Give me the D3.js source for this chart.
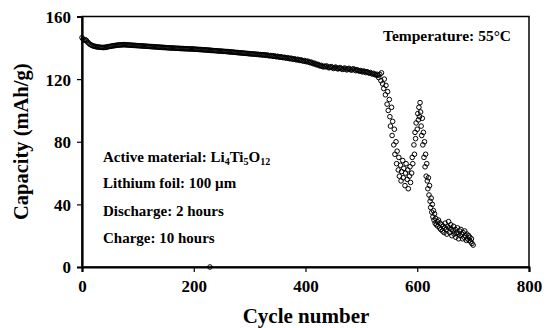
<!DOCTYPE html>
<html>
<head>
<meta charset="utf-8">
<script src="https://cdn.jsdelivr.net/npm/d3@7"></script>
<style>
  body { margin: 0; background: #fff; }
  svg text { font-family: "Liberation Serif", "Tinos", "Times New Roman", "DejaVu Serif", serif; font-weight: bold; }
</style>
</head>
<body>
<div id="chart"></div>
<script>
"use strict";

// cycle number and capacity (mAh/g)
let cycles = [
 0,2,4,6,8,10,12,14,16,18,20,22,24,26,28,30,32,34,36,38,40,42,44,46,48,50,52,54,56,58,
 60,62,64,66,68,70,72,74,76,78,80,82,84,86,88,90,92,94,96,98,100,102,104,106,108,110,112,114,116,118,
 120,122,124,126,128,130,132,134,136,138,140,142,144,146,148,150,152,154,156,158,
 160,162,164,166,168,170,172,174,176,178,180,182,184,186,188,190,192,194,196,198,
 200,202,204,206,208,210,212,214,216,218,220,222,224,226,228,230,232,234,236,238,
 240,242,244,246,248,250,252,254,256,258,260,262,264,266,268,270,272,274,276,278,
 280,282,284,286,288,290,292,294,296,298,300,302,304,306,308,310,312,314,316,318,
 320,322,324,326,328,330,332,334,336,338,340,342,344,346,348,350,352,354,356,358,
 360,362,364,366,368,370,372,374,376,378,380,382,384,386,388,390,392,394,396,398,
 400,402,404,406,408,410,412,414,416,418,420,422,424,426,428,430,432,434,436,438,
 440,442,444,446,448,450,452,454,456,458,460,462,464,466,468,470,472,474,476,478,
 480,482,484,486,488,490,492,494,496,498,500,502,504,506,508,510,512,514,516,518,
 520,522,524,526,528,530,
 531,533,535,536,538,540,541,543,544,546,547,548,550,551,552,554,555,556,558,559,560,562,563,564,566,567,568,
 570,571,572,574,575,576,578,579,580,582,583,584,586,587,588,590,591,592,594,595,596,597,598,600,601,602,603,
 604,605,606,607,608,609,610,611,612,613,614,615,616,617,618,619,620,621,622,623,624,625,626,627,628,629,630,
 631,632,633,634,636,637,638,640,641,642,644,645,646,648,649,650,652,653,654,656,657,658,660,661,662,664,665,
 666,668,669,670,672,673,674,676,677,678,680,681,682,684,685,686,688,689,690,692,693,694,696,697,698,700,
 229
];

let capacity = [
 146.5,145.5,144.8,145.2,144.6,143.6,143.0,142.3,141.9,141.5,
 141.2,141.0,140.8,140.7,140.5,140.5,140.3,140.3,140.2,140.2,
 140.3,140.3,140.5,140.6,140.8,140.9,141.0,141.2,141.3,141.4,
 141.5,141.6,141.7,141.8,141.8,141.9,141.9,142.0,142.0,141.9,
 141.9,141.8,141.8,141.7,141.7,141.6,141.6,141.5,141.5,141.4,
 141.4,141.3,141.3,141.2,141.2,141.1,141.1,141.0,141.0,140.9,
 140.9,140.8,140.8,140.7,140.7,140.6,140.6,140.5,140.5,140.4,
 140.4,140.3,140.3,140.2,140.2,140.1,140.1,140.0,140.0,139.9,
 139.9,139.9,139.8,139.8,139.7,139.7,139.7,139.6,139.6,139.5,
 139.5,139.5,139.4,139.4,139.4,139.3,139.3,139.3,139.3,139.2,
 139.2,139.1,139.1,139.0,139.0,138.9,138.9,138.8,138.8,138.7,
 138.7,138.6,138.6,138.5,138.5,138.4,138.3,138.3,138.2,138.2,
 138.1,138.1,138.0,137.9,137.9,137.8,137.8,137.7,137.7,137.6,
 137.6,137.5,137.4,137.4,137.3,137.2,137.2,137.1,137.0,137.0,
 136.9,136.8,136.8,136.7,136.6,136.6,136.5,136.4,136.4,136.3,
 136.2,136.2,136.1,136.0,136.1,135.9,135.8,135.9,135.7,135.6,
 135.7,135.5,135.4,135.6,135.3,135.2,135.4,135.0,134.9,135.1,
 134.8,134.6,134.9,134.5,134.3,134.6,134.2,134.0,134.3,133.9,
 133.7,134.0,133.6,133.4,133.7,133.3,133.0,133.4,132.9,132.7,
 133.0,132.6,132.3,132.7,132.2,131.9,132.3,131.8,131.5,131.9,
 131.4,131.1,131.5,130.9,130.5,130.9,130.3,129.8,130.2,129.6,
 129.1,129.5,128.9,128.4,128.8,128.2,127.8,128.3,127.9,128.4,
 127.7,127.2,127.6,128.0,127.5,126.8,127.3,127.7,127.0,126.5,
 126.9,127.4,126.7,126.2,126.6,127.1,126.4,125.9,126.5,126.9,
 126.2,125.7,126.3,126.6,125.9,125.4,126.0,125.6,125.1,125.5,
 125.0,124.6,125.2,124.8,124.2,124.7,124.3,123.8,124.2,123.6,
 123.2,123.7,123.0,122.6,123.1,122.4,
 121,123,119,124,117,114,120,110,116,104,112,100,107,96,90,102,84,93,78,88,72,80,66,74,62,70,58,
 65,55,61,68,57,63,52,60,66,56,62,50,58,64,54,60,70,66,78,72,86,82,92,88,98,94,102,
 96,105,99,90,84,95,78,86,70,80,64,72,58,66,55,50,57,46,52,42,38,44,35,40,32,36,30,
 34,28,31,27,29,26,30,25,28,24,27,23,26,22,25,28,24,21,26,29,25,22,27,24,20,23,26,
 21,24,19,22,25,21,18,23,20,24,21,18,22,19,23,20,17,21,18,20,17,19,16,18,15,14,
 0
];

let xTicks = [0,200,400,600,800];
let yTicks = [0,40,80,120,160];

let notes = ["Lithium foil: 100 \u00b5m", "Discharge: 2 hours", "Charge: 10 hours"];

let width = 552, height = 328;
let plotLeft = 82, plotRight = 529, plotTop = 16.5, plotBottom = 267;
let serif = "'Liberation Serif', 'Tinos', 'Times New Roman', 'DejaVu Serif', serif";

let svg = d3.select("#chart")
.append("svg")
.attr("width", width)
.attr("height", height);

let xScale = d3.scaleLinear().domain([0,800]).range([plotLeft,plotRight]);
let yScale = d3.scaleLinear().domain([0,160]).range([plotBottom,plotTop]);

// frame (top and right)
svg.append("rect")
.attr("x", plotLeft).attr("y", plotTop)
.attr("width", plotRight-plotLeft).attr("height", plotBottom-plotTop)
.attr("fill","none").attr("stroke","#000").attr("stroke-width",1.5);

// axes
let xAxis = svg.append("g")
.attr("transform","translate(0,"+plotBottom+")")
.call(d3.axisBottom(xScale).tickValues(xTicks).tickSize(5).tickPadding(5).tickFormat(d3.format("d")));

let yAxis = svg.append("g")
.attr("transform","translate("+plotLeft+",0)")
.call(d3.axisLeft(yScale).tickValues(yTicks).tickSize(5).tickPadding(6).tickFormat(d3.format("d")));

[xAxis, yAxis].forEach(function(g){
  g.attr("font-family", serif);
  g.select(".domain").attr("stroke","#000").attr("stroke-width",2.2);
  g.selectAll(".tick line").attr("stroke","#000").attr("stroke-width",1.2);
  g.selectAll(".tick text").attr("fill","#000").style("font-size","17px");
});
xAxis.selectAll(".tick text").attr("dy","0.9em");
yAxis.selectAll(".tick text").attr("dy","0.35em");

// data points
let points = cycles.map(function(c,i){ return {c:c, v:capacity[i]}; });

svg.append("g")
.selectAll("circle")
.data(points)
.join("circle")
.attr("cx", function(d){ return xScale(d.c); })
.attr("cy", function(d){ return yScale(d.v); })
.attr("r", 2.3)
.attr("fill","none")
.attr("stroke","#000")
.attr("stroke-width",1);

// axis titles
svg.append("text")
.attr("x", 306).attr("y", 323)
.attr("text-anchor","middle")
.style("font-size","21px")
.text("Cycle number");

svg.append("text")
.attr("transform","rotate(-90)")
.attr("x", -(plotTop+plotBottom)/2).attr("y", 28)
.attr("text-anchor","middle")
.style("font-size","20.5px")
.text("Capacity (mAh/g)");

// annotations
svg.append("text")
.attr("x", 383).attr("y", 40.5)
.style("font-size","15.5px")
.text("Temperature: 55\u00b0C");

let active = svg.append("text")
.attr("x", 103).attr("y", 162)
.style("font-size","15px");
active.append("tspan").text("Active material: Li");
active.append("tspan").attr("dy",3).style("font-size","10px").text("4");
active.append("tspan").attr("dy",-3).text("Ti");
active.append("tspan").attr("dy",3).style("font-size","10px").text("5");
active.append("tspan").attr("dy",-3).text("O");
active.append("tspan").attr("dy",3).style("font-size","10px").text("12");

for(let i=0;i<notes.length;i=i+1){
 svg.append("text")
 .attr("x",103)
 .attr("y",188+i*27.5)
 .style("font-size","15px")
 .text(notes[i]);
}
</script>
</body>
</html>
